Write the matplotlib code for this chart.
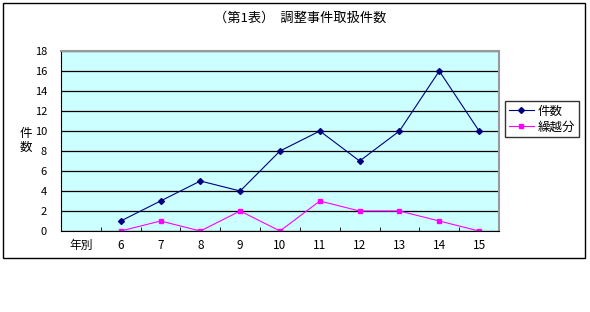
import matplotlib.pyplot as plt
from matplotlib.patches import Rectangle

plt.rcParams['font.family'] = ['Noto Sans CJK JP', 'DejaVu Sans']

# data
years = ['年別', '6', '7', '8', '9', '10', '11', '12', '13', '14', '15']
cases = [None, 1, 3, 5, 4, 8, 10, 7, 10, 16, 10]
carried = [None, 0, 1, 0, 2, 0, 3, 2, 2, 1, 0]

fig = plt.figure(figsize=(5.9, 3.12), dpi=100)
ax = fig.add_axes([61 / 590, 1 - 231 / 312, 438 / 590, 180 / 312])
ax.set_facecolor('#ccffff')

x = list(range(len(years)))
xs = [i for i, v in zip(x, cases) if v is not None]
ax.plot(xs, [v for v in cases if v is not None], color='#000080', marker='D',
        markersize=3, linewidth=0.8, label='件数')
ax.plot(xs, [v for v in carried if v is not None], color='#ff00ff', marker='s',
        markersize=3.5, linewidth=0.8, label='繰越分')

ax.set_xlim(-0.5, len(years) - 0.5)
ax.set_ylim(0, 18)
ax.set_yticks(range(0, 19, 2))
ax.yaxis.grid(True, color='black', linewidth=0.9)
ax.set_axisbelow(True)
ax.tick_params(axis='y', length=0, labelsize=8, pad=10)
ax.set_xticks(x)
ax.set_xticklabels(years, fontsize=8.5)
ax.set_xticks([i + 0.5 for i in range(-1, len(years))], minor=True)
ax.tick_params(axis='x', which='major', length=0, pad=6)
ax.tick_params(axis='x', which='minor', length=3, direction='in')
for s in ['top', 'right']:
    ax.spines[s].set_color('#999999')
    ax.spines[s].set_linewidth(1.5)
for s in ['left', 'bottom']:
    ax.spines[s].set_color('black')

fig.text(26 / 590, 1 - 140 / 312, '件\n数', fontsize=9, ha='center', va='center',
         linespacing=1.1)
fig.text(300 / 590, 1 - 18 / 312, '（第1表）  調整事件取扱件数', fontsize=9.5,
         ha='center', va='center')

ax.legend(loc='upper left', bbox_to_anchor=(505 / 590, 1 - 101 / 312),
          bbox_transform=fig.transFigure, fontsize=9, frameon=True,
          fancybox=False, edgecolor='black', borderpad=0.3, handlelength=2,
          handletextpad=0.3, labelspacing=0.2, borderaxespad=0)

fig.patches.append(Rectangle((3 / 590, 1 - 258 / 312), 582 / 590, 255 / 312,
                             transform=fig.transFigure, fill=False,
                             edgecolor='black', linewidth=1))

fig.savefig('out.png', dpi=100)
